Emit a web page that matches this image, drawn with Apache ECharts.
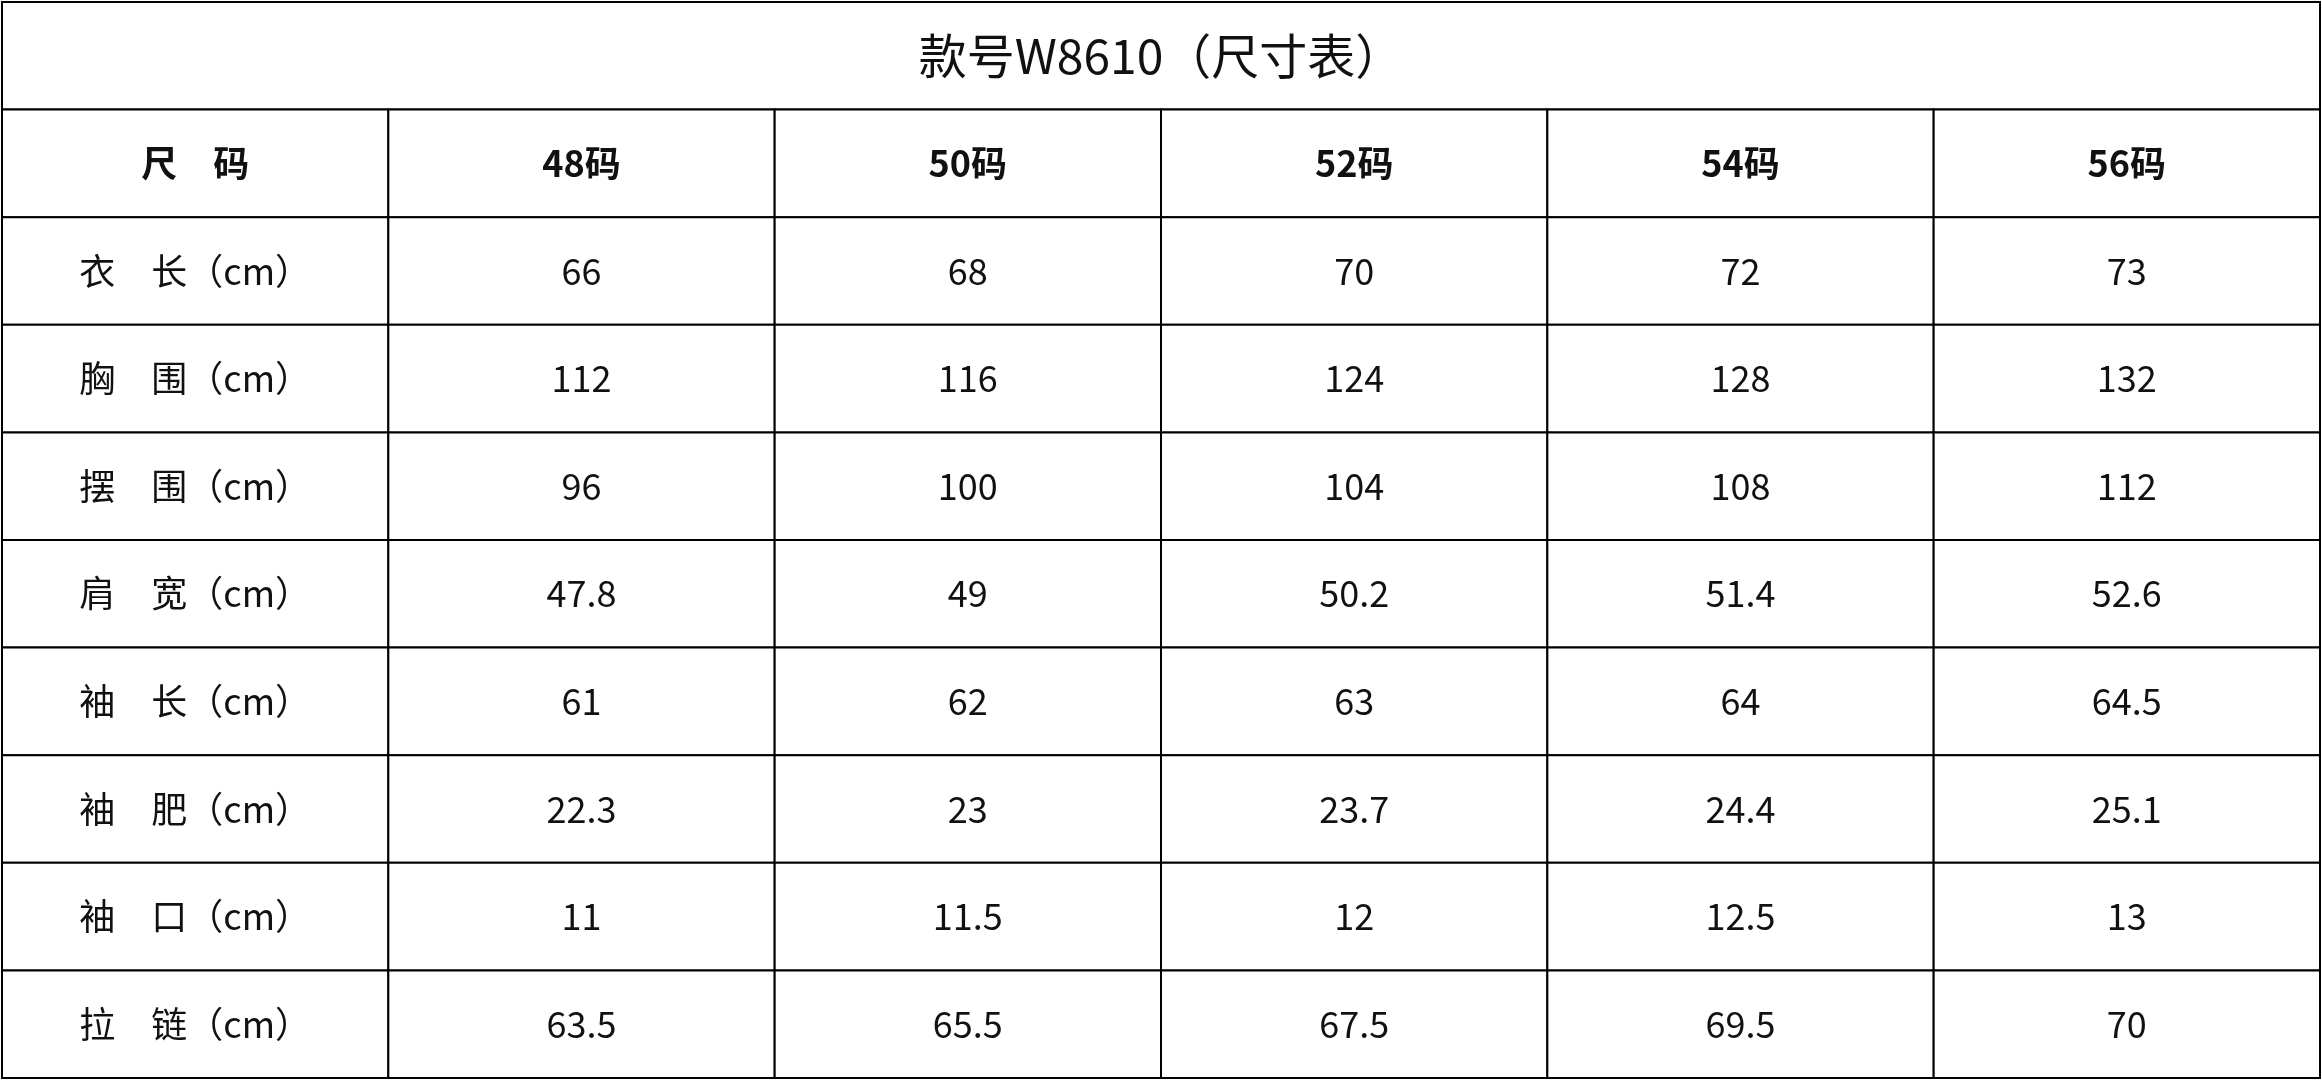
<!DOCTYPE html>
<html><head><meta charset="utf-8">
<script src="https://cdn.jsdelivr.net/npm/echarts@6/dist/echarts.min.js"></script>
<style>html,body{margin:0;background:#fff}#c{width:2322px;height:1080px}</style>
</head><body><div id="c"></div>
<script>
const title = '款号W8610（尺寸表）';
const headers = ['尺　码','48码','50码','52码','54码','56码'];
const rowLabels = ['衣　长（cm）','胸　围（cm）','摆　围（cm）','肩　宽（cm）','袖　长（cm）','袖　肥（cm）','袖　口（cm）','拉　链（cm）'];
const values = [
  ['66','68','70','72','73'],
  ['112','116','124','128','132'],
  ['96','100','104','108','112'],
  ['47.8','49','50.2','51.4','52.6'],
  ['61','62','63','64','64.5'],
  ['22.3','23','23.7','24.4','25.1'],
  ['11','11.5','12','12.5','13'],
  ['63.5','65.5','67.5','69.5','70']
];
const cols = ['c0','c1','c2','c3','c4','c5'];
const rows = ['t','h'].concat(rowLabels.map((_, i) => 'r' + i));
const data = [[0, 0, title, 'title']];
headers.forEach((h, i) => data.push([i, 1, h, 'head']));
rowLabels.forEach((r, ri) => {
  data.push([0, ri + 2, r, 'label']);
  values[ri].forEach((v, ci) => data.push([ci + 1, ri + 2, v, 'val']));
});
const font = '"Noto Sans CJK SC","DejaVu Sans",sans-serif';
const chart = echarts.init(document.getElementById('c'));
chart.setOption({
  animation: false,
  grid: {left: 2, right: 2, top: 2, bottom: 2},
  xAxis: {type: 'category', data: cols, show: false},
  yAxis: {type: 'category', data: rows, inverse: true, show: false},
  series: [{
    type: 'custom',
    data: data,
    renderItem: function (params, api) {
      const x = api.value(0), y = api.value(1);
      const kind = data[params.dataIndex][3];
      const txt = data[params.dataIndex][2];
      const s = api.size([1, 1]);
      const c = api.coord([x, y]);
      let x0 = c[0] - s[0] / 2, w = s[0];
      if (kind === 'title') {
        const c5 = api.coord([5, 0]);
        w = c5[0] + s[0] / 2 - x0;
      }
      const y0 = c[1] - s[1] / 2;
      return {
        type: 'group',
        children: [
          {type: 'rect', shape: {x: x0, y: y0, width: w, height: s[1]},
           style: {fill: '#fff', stroke: '#000', lineWidth: 2}},
          {type: 'text', style: {
            x: x0 + w / 2, y: y0 + s[1] / 2, text: txt,
            align: 'center', verticalAlign: 'middle', fill: '#111',
            font: (kind === 'head' ? 'bold 36px ' : kind === 'title' ? '48px ' : '36px ') + font
          }}
        ]
      };
    }
  }]
});
</script></body></html>
